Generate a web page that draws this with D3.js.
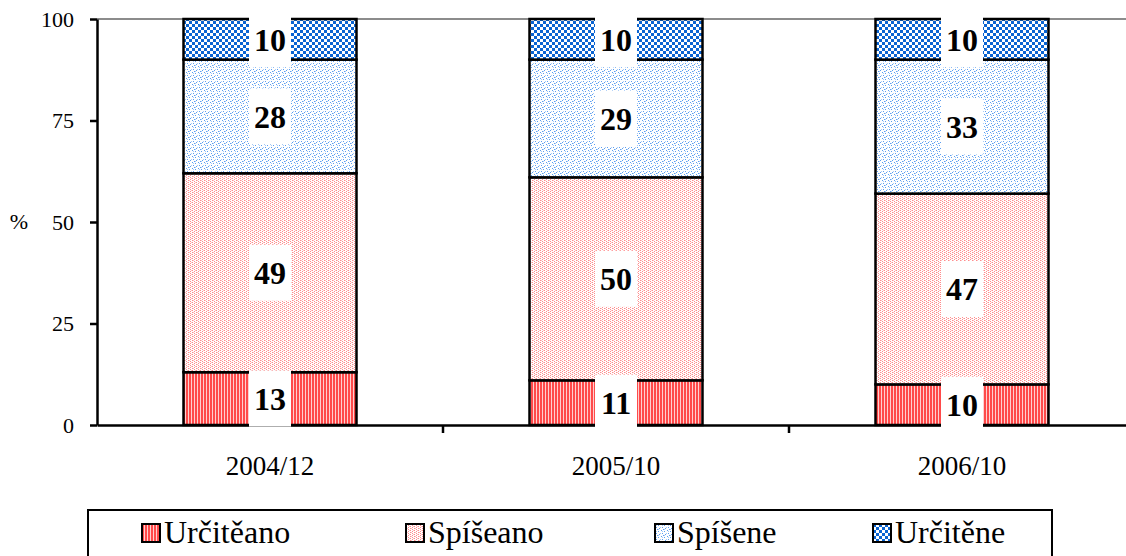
<!DOCTYPE html>
<html>
<head>
<meta charset="utf-8">
<script src="https://cdn.jsdelivr.net/npm/d3@7"></script>
</head>
<body style="margin:0;background:#fff">
<svg id="chart" width="1126" height="556" font-family="Liberation Serif" style="display:block"></svg>
<script>
// categories and series (percent, bottom to top)
const periods = ['2004/12', '2005/10', '2006/10'];
const seriesNames = ['Určitěano', 'Spíšeano', 'Spíšene', 'Určitěne'];
const urciteAno = [13, 11, 10];
const spiseAno = [49, 50, 47];
const spiseNe = [28, 29, 33];
const urciteNe = [10, 10, 10];
const yTicks = [0, 25, 50, 75, 100];

const FONT = 'Liberation Serif';
const svg = d3.select('#chart');
const margin = { left: 97, right: -9, top: 19, bottom: 131 };
const W = 1126, H = 556;

const x = d3.scaleBand().domain(periods).range([margin.left, W - margin.right]).paddingInner(0.5).paddingOuter(0.25);
const y = d3.scaleLinear().domain([0, 100]).range([H - margin.bottom, margin.top]);

// patterns
const defs = svg.append('defs');
const pStripe = defs.append('pattern').attr('id', 'p0').attr('patternUnits', 'userSpaceOnUse').attr('width', 3).attr('height', 3);
pStripe.append('rect').attr('width', 3).attr('height', 3).attr('fill', '#ffd0d0');
pStripe.append('rect').attr('width', 2).attr('height', 3).attr('fill', '#ff4a4a');

const pDotRed = defs.append('pattern').attr('id', 'p1').attr('patternUnits', 'userSpaceOnUse').attr('width', 4).attr('height', 4);
pDotRed.append('rect').attr('width', 4).attr('height', 4).attr('fill', '#fff');
[[0, 0], [2, 1], [0, 2], [2, 3]].forEach(([a, b]) =>
  pDotRed.append('rect').attr('x', a).attr('y', b).attr('width', 1).attr('height', 1).attr('fill', '#ff8c8c'));
[[1, 0], [3, 2]].forEach(([a, b]) =>
  pDotRed.append('rect').attr('x', a).attr('y', b).attr('width', 1).attr('height', 1).attr('fill', '#ffc4c4'));

const pDotBlue = defs.append('pattern').attr('id', 'p2').attr('patternUnits', 'userSpaceOnUse').attr('width', 6).attr('height', 6);
pDotBlue.append('rect').attr('width', 6).attr('height', 6).attr('fill', '#fff');
[[0, 0], [3, 1], [1, 3], [4, 4], [2, 5]].forEach(([a, b]) =>
  pDotBlue.append('rect').attr('x', a).attr('y', b).attr('width', 1).attr('height', 1).attr('fill', '#5c9ef0'));
[[1, 1], [5, 3], [3, 5]].forEach(([a, b]) =>
  pDotBlue.append('rect').attr('x', a).attr('y', b).attr('width', 1).attr('height', 1).attr('fill', '#a9ccf7'));

const pCheck = defs.append('pattern').attr('id', 'p3').attr('patternUnits', 'userSpaceOnUse').attr('width', 6).attr('height', 6);
pCheck.append('rect').attr('width', 6).attr('height', 6).attr('fill', '#fff');
pCheck.append('rect').attr('width', 3).attr('height', 3).attr('fill', '#0a64d2');
pCheck.append('rect').attr('x', 3).attr('y', 3).attr('width', 3).attr('height', 3).attr('fill', '#0a64d2');

const fills = ['url(#p0)', 'url(#p1)', 'url(#p2)', 'url(#p3)'];

// top grid line
svg.append('line')
  .attr('x1', margin.left).attr('x2', W).attr('y1', y(100)).attr('y2', y(100))
  .attr('stroke', '#8c8c8c').attr('stroke-width', 2);

// stacked data
const rows = periods.map((p, i) => ({ period: p, v: [urciteAno[i], spiseAno[i], spiseNe[i], urciteNe[i]] }));
const segs = [];
rows.forEach(r => {
  let acc = 0;
  r.v.forEach((v, k) => { segs.push({ period: r.period, k, v, y0: acc, y1: acc + v }); acc += v; });
});

svg.append('g').selectAll('rect').data(segs).join('rect')
  .attr('x', d => x(d.period)).attr('width', x.bandwidth())
  .attr('y', d => y(d.y1)).attr('height', d => y(d.y0) - y(d.y1))
  .attr('fill', d => fills[d.k])
  .attr('stroke', '#000').attr('stroke-width', 2.5);

// axes
const yAxis = svg.append('g').attr('transform', `translate(${margin.left},0)`)
  .call(d3.axisLeft(y).tickValues(yTicks).tickSize(7).tickSizeOuter(0))
  .attr('font-family', FONT).attr('font-size', 22);
yAxis.select('.domain').attr('stroke-width', 2.5);
yAxis.selectAll('.tick line').attr('stroke-width', 2.5);
yAxis.selectAll('.tick text').attr('font-family', FONT).attr('font-size', 22).attr('fill', '#000').attr('x', -23);

svg.append('text').attr('x', 19).attr('y', y(50)).attr('dy', '0.32em')
  .attr('font-family', FONT).attr('text-anchor', 'middle').attr('font-size', 22).text('%');

const xAxis = svg.append('g').attr('transform', `translate(0,${y(0)})`)
  .call(d3.axisBottom(x).tickSize(0).tickSizeOuter(0))
  .attr('font-family', FONT).attr('font-size', 27);
xAxis.select('.domain').attr('stroke-width', 2.5);
xAxis.selectAll('.tick text').attr('font-family', FONT).attr('font-size', 27).attr('fill', '#000').attr('y', 31);
// category separators
const step = x.step();
svg.append('g').selectAll('line').data(periods.slice(1)).join('line')
  .attr('x1', d => x(d) - step / 4).attr('x2', d => x(d) - step / 4)
  .attr('y1', y(0)).attr('y2', y(0) + 8)
  .attr('stroke', '#000').attr('stroke-width', 2.5);

// data labels
const lab = svg.append('g').selectAll('g').data(segs).join('g')
  .attr('transform', d => `translate(${x(d.period) + x.bandwidth() / 2},${y((d.y0 + d.y1) / 2)})`);
lab.append('rect').attr('x', -21).attr('y', -28).attr('width', 42).attr('height', 56).attr('fill', '#fff');
lab.append('text').attr('text-anchor', 'middle').attr('dy', '0.35em')
  .attr('font-family', FONT).attr('font-size', 32).attr('font-weight', 'bold').text(d => d.v);

// legend
const leg = svg.append('g');
leg.append('rect').attr('x', 88).attr('y', 510).attr('width', 964).attr('height', 60)
  .attr('fill', '#fff').attr('stroke', '#000').attr('stroke-width', 2);
const legX = [142, 406, 655, 873];
const li = leg.selectAll('g.item').data(seriesNames).join('g').attr('class', 'item')
  .attr('transform', (d, i) => `translate(${legX[i]},524)`);
li.append('rect').attr('width', 18).attr('height', 18).attr('fill', (d, i) => fills[i])
  .attr('stroke', '#000').attr('stroke-width', 2);
li.append('text').attr('x', 22).attr('y', 19)
  .attr('font-family', FONT).attr('font-size', 32).text(d => d);
</script>
</body>
</html>
